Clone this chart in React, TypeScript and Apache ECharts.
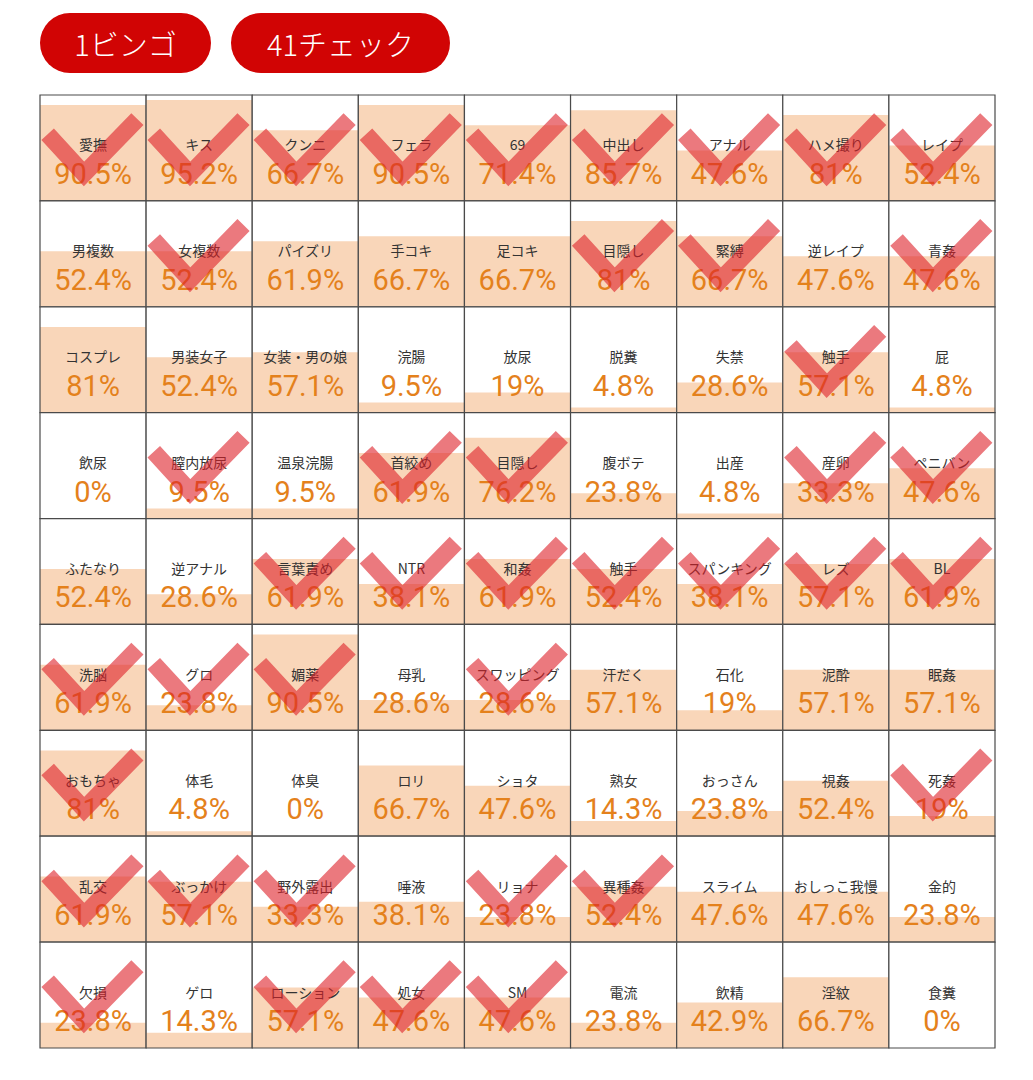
import React, { useEffect, useRef } from "react";
import * as echarts from "echarts";

const columns = ["1", "2", "3", "4", "5", "6", "7", "8", "9"];
const rows = ["1", "2", "3", "4", "5", "6", "7", "8", "9"];

const labels = [
  "愛撫", "キス", "クンニ", "フェラ", "69", "中出し", "アナル", "ハメ撮り", "レイプ",
  "男複数", "女複数", "パイズリ", "手コキ", "足コキ", "目隠し", "緊縛", "逆レイプ", "青姦",
  "コスプレ", "男装女子", "女装・男の娘", "浣腸", "放尿", "脱糞", "失禁", "触手", "屁",
  "飲尿", "膣内放尿", "温泉浣腸", "首絞め", "目隠し", "腹ボテ", "出産", "産卵", "ペニバン",
  "ふたなり", "逆アナル", "言葉責め", "NTR", "和姦", "触手", "スパンキング", "レズ", "BL",
  "洗脳", "グロ", "媚薬", "母乳", "スワッピング", "汗だく", "石化", "泥酔", "眠姦",
  "おもちゃ", "体毛", "体臭", "ロリ", "ショタ", "熟女", "おっさん", "視姦", "死姦",
  "乱交", "ぶっかけ", "野外露出", "唾液", "リョナ", "異種姦", "スライム", "おしっこ我慢", "金的",
  "欠損", "ゲロ", "ローション", "処女", "SM", "電流", "飲精", "淫紋", "食糞",
];

const percents = [
  90.5, 95.2, 66.7, 90.5, 71.4, 85.7, 47.6, 81, 52.4,
  52.4, 52.4, 61.9, 66.7, 66.7, 81, 66.7, 47.6, 47.6,
  81, 52.4, 57.1, 9.5, 19, 4.8, 28.6, 57.1, 4.8,
  0, 9.5, 9.5, 61.9, 76.2, 23.8, 4.8, 33.3, 47.6,
  52.4, 28.6, 61.9, 38.1, 61.9, 52.4, 38.1, 57.1, 61.9,
  61.9, 23.8, 90.5, 28.6, 28.6, 57.1, 19, 57.1, 57.1,
  81, 4.8, 0, 66.7, 47.6, 14.3, 23.8, 52.4, 19,
  61.9, 57.1, 33.3, 38.1, 23.8, 52.4, 47.6, 47.6, 23.8,
  23.8, 14.3, 57.1, 47.6, 47.6, 23.8, 42.9, 66.7, 0,
];

const checked = [
  1, 1, 1, 1, 1, 1, 1, 1, 1,
  0, 1, 0, 0, 0, 1, 1, 0, 1,
  0, 0, 0, 0, 0, 0, 0, 1, 0,
  0, 1, 0, 1, 1, 0, 0, 1, 1,
  0, 0, 1, 1, 1, 1, 1, 1, 1,
  1, 1, 1, 0, 1, 0, 0, 0, 0,
  1, 0, 0, 0, 0, 0, 0, 0, 1,
  1, 1, 1, 0, 1, 1, 0, 0, 0,
  1, 0, 1, 1, 1, 0, 0, 0, 0,
];

const N = 9;

function countBingo(): number {
  const c = (r: number, k: number) => checked[r * N + k] === 1;
  let n = 0;
  for (let r = 0; r < N; r++) {
    let ok = true;
    for (let k = 0; k < N; k++) if (!c(r, k)) ok = false;
    if (ok) n++;
  }
  for (let k = 0; k < N; k++) {
    let ok = true;
    for (let r = 0; r < N; r++) if (!c(r, k)) ok = false;
    if (ok) n++;
  }
  let d1 = true, d2 = true;
  for (let i = 0; i < N; i++) {
    if (!c(i, i)) d1 = false;
    if (!c(i, N - 1 - i)) d2 = false;
  }
  if (d1) n++;
  if (d2) n++;
  return n;
}

export default function App() {
  const ref = useRef<HTMLDivElement>(null);

  useEffect(() => {
    if (!ref.current) return;
    const chart = echarts.init(ref.current, undefined, { renderer: "svg" });

    const data = labels.map((lab, i) => [
      i % N,
      Math.floor(i / N),
      percents[i],
      checked[i],
      i,
    ]);

    const checkCount = checked.reduce((a, b) => a + b, 0);
    const bingoCount = countBingo();

    const renderItem = (params: any, api: any) => {
      const col = api.value(0);
      const row = api.value(1);
      const v = api.value(2);
      const chk = api.value(3);
      const idx = api.value(4);
      const c = api.coord([col, row]);
      const s = api.size([1, 1]);
      const w = s[0];
      const h = s[1];
      const x0 = c[0] - w / 2;
      const y0 = c[1] - h / 2;
      const fh = (h * v) / 100;
      const children: any[] = [];
      children.push({
        type: "rect",
        shape: { x: x0, y: y0, width: w, height: h },
        style: { fill: "#ffffff" },
      });
      if (fh > 0) {
        children.push({
          type: "rect",
          shape: { x: x0, y: y0 + h - fh, width: w, height: fh },
          style: { fill: "#f9d6b9" },
        });
      }
      children.push({
        type: "rect",
        shape: { x: x0, y: y0, width: w, height: h },
        style: { fill: "none", stroke: "#4a4a4a", lineWidth: 1.2 },
      });
      children.push({
        type: "text",
        style: {
          text: labels[idx],
          x: x0 + w / 2,
          y: y0 + h * 0.467,
          align: "center",
          verticalAlign: "middle",
          fontSize: 14,
          fontFamily: '"Noto Sans CJK JP", sans-serif',
          fill: "#333333",
        },
      });
      children.push({
        type: "text",
        style: {
          text: String(v) + "%",
          x: x0 + w / 2,
          y: y0 + h * 0.745,
          align: "center",
          verticalAlign: "middle",
          fontSize: 29,
          fontFamily: 'Roboto, "Noto Sans", sans-serif',
          fill: "#e4811c",
        },
      });
      if (chk === 1) {
        children.push({
          type: "polyline",
          shape: {
            points: [
              [x0 + 0.072 * w, y0 + 0.37 * h],
              [x0 + 0.415 * w, y0 + 0.745 * h],
              [x0 + 0.918 * w, y0 + 0.228 * h],
            ],
          },
          style: {
            fill: "none",
            stroke: "rgba(222,32,40,0.6)",
            lineWidth: 17,
            lineJoin: "miter",
            lineCap: "butt",
          },
        });
      }
      return { type: "group", children };
    };

    chart.setOption({
      animation: false,
      backgroundColor: "#ffffff",
      grid: { left: 40, top: 95, width: 955, height: 953 },
      xAxis: {
        type: "category",
        data: columns,
        show: false,
        boundaryGap: true,
      },
      yAxis: {
        type: "category",
        data: rows,
        inverse: true,
        show: false,
        boundaryGap: true,
      },
      graphic: [
        {
          type: "rect",
          shape: { x: 40, y: 13, width: 171, height: 60, r: 30 },
          style: { fill: "#d10404" },
        },
        {
          type: "text",
          style: {
            text: `${bingoCount}ビンゴ`,
            x: 125.5,
            y: 43,
            align: "center",
            verticalAlign: "middle",
            fontSize: 29,
            fontWeight: 300,
            fontFamily: '"Noto Sans CJK JP", sans-serif',
            fill: "#ffffff",
          },
        },
        {
          type: "rect",
          shape: { x: 231, y: 13, width: 219, height: 60, r: 30 },
          style: { fill: "#d10404" },
        },
        {
          type: "text",
          style: {
            text: `${checkCount}チェック`,
            x: 340.5,
            y: 43,
            align: "center",
            verticalAlign: "middle",
            fontSize: 29,
            fontWeight: 300,
            fontFamily: '"Noto Sans CJK JP", sans-serif',
            fill: "#ffffff",
          },
        },
      ],
      series: [
        {
          type: "custom",
          renderItem,
          data,
          clip: false,
        },
      ],
    });

    return () => chart.dispose();
  }, []);

  return (
    <div
      ref={ref}
      style={{ position: "absolute", left: 0, top: 0, width: 1033, height: 1080 }}
    />
  );
}
